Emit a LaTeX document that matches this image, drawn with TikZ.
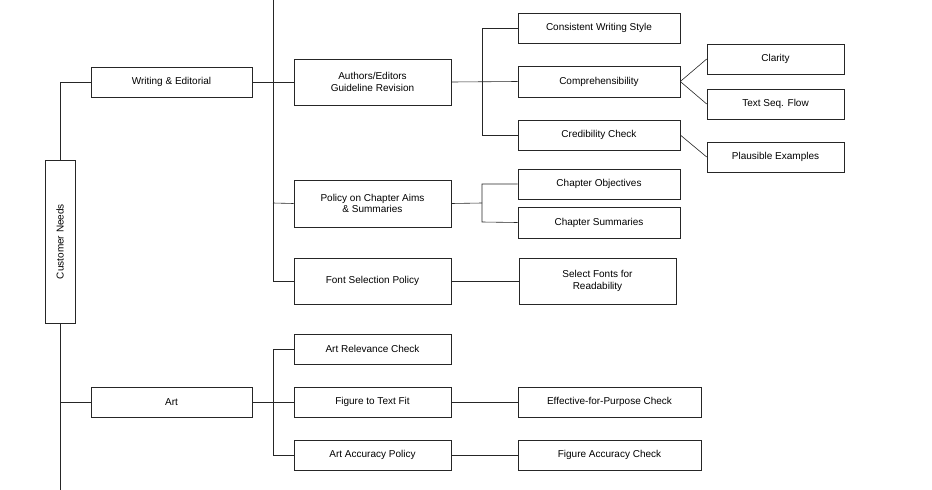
\documentclass[tikz,border=0pt]{standalone}
\usepackage{fontspec}
\setmainfont{Liberation Sans}
\begin{document}
\begin{tikzpicture}[x=1pt,y=-1pt,
  bx/.style={draw=black!85,line width=0.6pt,fill=white,inner sep=0pt,align=center,font=\fontsize{10}{11.5}\selectfont},
  ln/.style={draw=black!85,line width=0.6pt}]
\useasboundingbox (0,0) rectangle (932,490);
\newcommand{\bxat}[6]{\node[bx,minimum width=#4-#2,minimum height=#5-#3] (#1) at ({(#2+#4)/2},{(#3+#5)/2}) {#6};}
\node[bx,minimum width=163,minimum height=30,rotate=90] (cn) at (60,241.5) {Customer Needs};
\bxat{we}{91}{67}{252}{97}{Writing \& Editorial}
\bxat{art}{91}{387}{252}{417}{Art}
\bxat{agr}{294}{59}{451}{105}{Authors/Editors\\Guideline Revision}
\bxat{pca}{294}{180}{451}{227}{Policy on Chapter Aims\\\& Summaries}
\bxat{fsp}{294}{258}{451}{304}{Font Selection Policy}
\bxat{arc}{294}{334}{451}{364}{Art Relevance Check}
\bxat{ftf}{294}{387}{451}{417}{Figure to Text Fit}
\bxat{aap}{294}{440}{451}{470}{Art Accuracy Policy}
\bxat{cws}{518}{13}{680}{43}{Consistent Writing Style}
\bxat{com}{518}{66}{680}{97}{Comprehensibility}
\bxat{crc}{518}{120}{680}{150}{Credibility Check}
\bxat{cho}{518}{169}{680}{199}{Chapter Objectives}
\bxat{chs}{518}{207}{680}{238}{Chapter Summaries}
\bxat{sfr}{519}{258}{676}{304}{Select Fonts for\\Readability}
\bxat{efp}{518}{387}{701}{417}{Effective-for-Purpose Check}
\bxat{fac}{518}{440}{701}{470}{Figure Accuracy Check}
\bxat{cla}{707}{44}{844}{74}{Clarity}
\bxat{tsf}{707}{89}{844}{119}{Text Seq. Flow}
\bxat{ple}{707}{142}{844}{172}{Plausible Examples}
\coordinate (top) at (273,0);
\coordinate (bot) at (60,490);
% customer needs
\draw[ln] (cn.east) |- (we.west);
\draw[ln] (cn.west) -- (bot);
\draw[ln] (60,402) -- (art.west);
% writing
\draw[ln] (we.east) -- (agr.west);
\draw[ln] (top) |- (fsp.west);
\draw[ln] (273,203) -- (pca.west);
% art
\draw[ln] (art.east) -- (ftf.west);
\draw[ln] (arc.west) -| (273,455) -- (aap.west);
% authors
\draw[ln] (agr.east) -- (com.west);
\draw[ln] (cws.west) -| (482,135) -- (crc.west);
\draw[ln] (com.east) -- (cla.west);
\draw[ln] (com.east) -- (tsf.west);
\draw[ln] (crc.east) -- (ple.west);
% policy
\draw[ln] (pca.east) -- (482,203);
\draw[ln] (cho.west) -| (482,222) -- (chs.west);
\draw[ln] (fsp.east) -- (sfr.west);
\draw[ln] (ftf.east) -- (efp.west);
\draw[ln] (aap.east) -- (fac.west);
\end{tikzpicture}
\end{document}
